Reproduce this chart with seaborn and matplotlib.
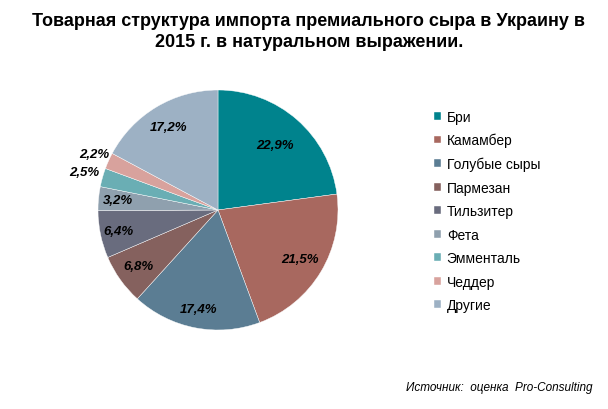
import numpy as np
import seaborn as sns
import matplotlib.pyplot as plt

sns.set_style("white")
plt.rcParams["font.family"] = ["Liberation Sans", "DejaVu Sans"]
plt.rcParams["text.color"] = "black"

# ============================================
# DADOS
# ============================================
categories = ["Бри", "Камамбер", "Голубые сыры", "Пармезан", "Тильзитер",
              "Фета", "Эмменталь", "Чеддер", "Другие"]
shares = [22.9, 21.5, 17.4, 6.8, 6.4, 3.2, 2.5, 2.2, 17.2]
colors = ["#00838D", "#A8685F", "#5B7D93", "#85615E", "#696C7E",
          "#8FA0AE", "#6AAEB4", "#D8A29D", "#9DB1C4"]
# distancia radial de cada rótulo (fração do raio)
label_dist = [0.72, 0.80, 0.84, 0.81, 0.85, 0.84, 1.16, 1.13, 0.81]

title = "Товарная структура импорта премиального сыра в Украину в\n2015 г. в натуральном выражении."
source = "Источник:  оценка  Pro-Consulting"

# ============================================
# FIGURA
# ============================================
fig = plt.figure(figsize=(6.08, 4.10), dpi=100)
W, H = 608, 410
cx, cy, box = 218, 199, 250
ax = fig.add_axes([(cx - box / 2) / W, (cy - box / 2) / H, box / W, box / H])

wedges, _ = ax.pie(shares, colors=colors, startangle=90, counterclock=False,
                   radius=1, wedgeprops=dict(edgecolor="white", linewidth=0.3))
lim = box / 2 / 120
ax.set_xlim(-lim, lim)
ax.set_ylim(-lim, lim)
ax.set_aspect("equal")
ax.axis("off")

for w, val, d in zip(wedges, shares, label_dist):
    ang = np.deg2rad((w.theta1 + w.theta2) / 2)
    ax.text(d * np.cos(ang), d * np.sin(ang), f"{val:.1f}%".replace(".", ","),
            ha="center", va="center", fontsize=9.5, fontweight="bold",
            fontstyle="italic", color="black")

fig.text(0.508, 0.968, title, ha="center", va="top", fontsize=13,
         fontweight="bold", linespacing=1.3, color="black",
         family=["Liberation Sans Narrow", "Liberation Sans", "DejaVu Sans"])

fig.legend(wedges, categories, loc="upper left", bbox_to_anchor=(428 / W, 1 - 105 / H),
           frameon=False, fontsize=10, handlelength=0.5, handleheight=0.5,
           handletextpad=0.45, labelspacing=0.68, borderaxespad=0,
           labelcolor="black")

fig.text(592 / W, 1 - 388 / H, source, ha="right", va="center", fontsize=8.5,
         fontstyle="italic", color="black")

plt.savefig("out.png", dpi=100)
plt.close()
